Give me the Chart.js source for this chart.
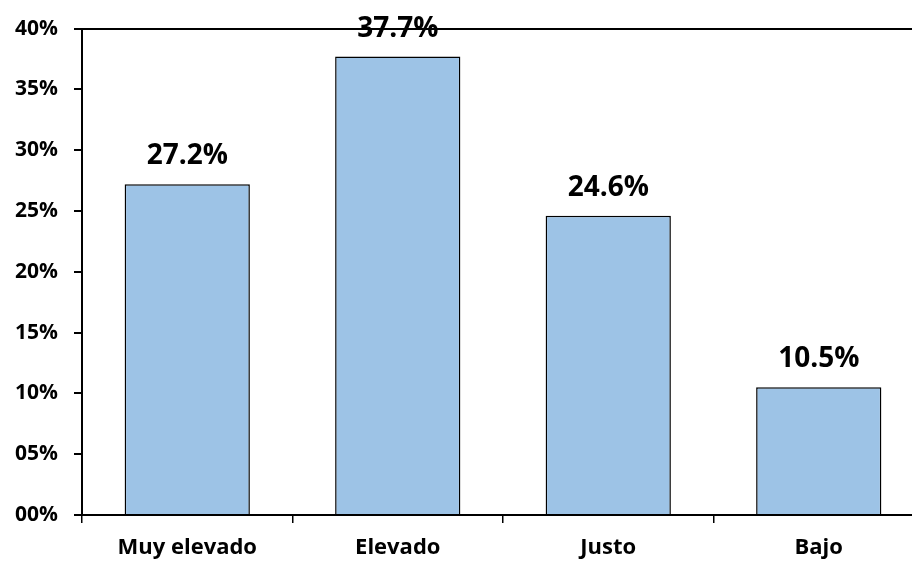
<!DOCTYPE html>
<html>
<head>
<meta charset="utf-8">
<script src="https://cdn.jsdelivr.net/npm/chart.js@4"></script>
<style>
  html, body { margin: 0; padding: 0; background: #fff; overflow: hidden; }
  #wrap { width: 930px; height: 562px; }
</style>
</head>
<body>
<div id="wrap"><canvas id="myChart" width="930" height="562"></canvas></div>
<script>
var categories = ['Muy elevado', 'Elevado', 'Justo', 'Bajo'];
var values = [27.2, 37.7, 24.6, 10.5];
var tickValues = [0, 5, 10, 15, 20, 25, 30, 35, 40];

var fontFamily = "'Open Sans', 'Liberation Sans', sans-serif";

// etiquetas encima de cada barra
var valueLabels = {
    id: 'valueLabels',
    afterDatasetsDraw: function (chart) {
        var c = chart.ctx;
        var meta = chart.getDatasetMeta(0);
        c.save();
        c.font = "bold 28px " + fontFamily;
        c.fillStyle = '#000';
        c.textAlign = 'center';
        c.textBaseline = 'alphabetic';
        meta.data.forEach(function (bar, i) {
            c.fillText(values[i].toFixed(1) + '%', bar.x, bar.y - 20);
        });
        c.restore();
    }
};

var ctx = document.getElementById('myChart');

var myChart = new Chart(ctx, {
    type: 'bar',
    data: {
        labels: categories,
        datasets: [{
            data: values,
            backgroundColor: 'rgb(157, 195, 230)',
            borderColor: '#000',
            borderWidth: 1.5,
            barPercentage: 0.595,
            categoryPercentage: 1
        }]
    },
    options: {
        responsive: false,
        animation: false,
        layout: { padding: { top: 27, right: 6, left: 0, bottom: 0 } },
        plugins: {
            legend: { display: false },
            tooltip: { enabled: false }
        },
        scales: {
            x: {
                grid: {
                    offset: true,
                    color: 'transparent',
                    tickColor: '#000',
                    tickLength: 8,
                    lineWidth: 1.5
                },
                border: { display: true, color: '#000', width: 2 },
                ticks: {
                    color: '#000',
                    padding: 12,
                    font: { family: fontFamily, size: 22, weight: 'bold' }
                },
                afterFit: function (scale) { scale.height = 47; }
            },
            y: {
                min: 0,
                max: 40,
                afterBuildTicks: function (scale) {
                    scale.ticks = tickValues.map(function (v) { return { value: v }; });
                },
                grid: {
                    color: function (c) { return c.tick && c.tick.value === 40 ? '#000' : 'transparent'; },
                    lineWidth: 2,
                    tickColor: '#000',
                    tickLength: 8
                },
                border: { display: true, color: '#000', width: 2 },
                ticks: {
                    color: '#000',
                    padding: 16,
                    font: { family: fontFamily, size: 21, weight: 'bold' },
                    callback: function (v) { return (v < 10 ? '0' : '') + v + '%'; }
                },
                afterFit: function (scale) { scale.width = 82; }
            }
        }
    },
    plugins: [valueLabels]
});
</script>
</body>
</html>
